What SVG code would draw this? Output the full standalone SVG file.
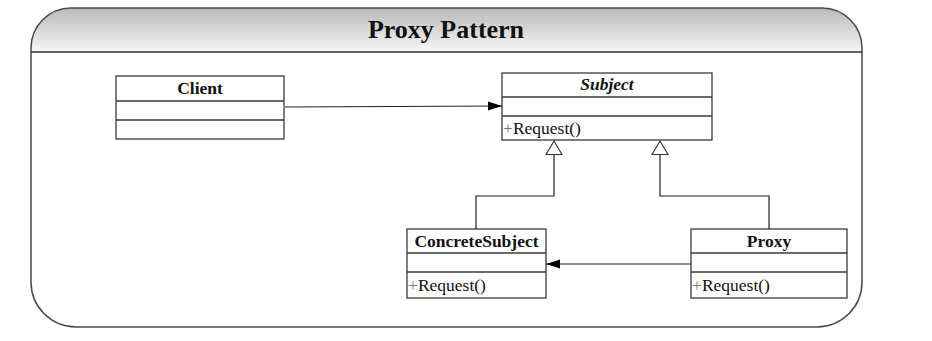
<svg xmlns="http://www.w3.org/2000/svg" width="932" height="341" viewBox="0 0 932 341">
  <defs>
    <linearGradient id="hdr" x1="0" y1="0" x2="0" y2="1">
      <stop offset="0" stop-color="#b9b9b9"/>
      <stop offset="1" stop-color="#f7f7f7"/>
    </linearGradient>
    <marker id="assoc" viewBox="0 0 14 10" refX="14" refY="5" markerWidth="14" markerHeight="10" markerUnits="userSpaceOnUse" orient="auto">
      <path d="M0,0.5 L14,5 L0,9.5 Z" fill="#000"/>
    </marker>
    <marker id="gen" viewBox="0 0 16 19" refX="15" refY="9.5" markerWidth="16" markerHeight="19" markerUnits="userSpaceOnUse" orient="auto">
      <path d="M15,9.5 L1.5,1.5 L1.5,17.5 Z" fill="#fff" stroke="#333" stroke-width="1.1"/>
    </marker>
  </defs>
  <style>
    .box { fill: #fff; stroke: #3a3a3a; stroke-width: 1.3; }
    .div { stroke: #3a3a3a; stroke-width: 1.3; }
    .name { font-family: "Liberation Serif", "Times New Roman", serif; font-size: 17.5px; font-weight: bold; text-anchor: middle; fill: #111; }
    .op { font-family: "Liberation Serif", "Times New Roman", serif; font-size: 17.5px; fill: #111; }
    .plus { fill: #777; }
    .conn { fill: none; stroke: #222; stroke-width: 1.2; }
  </style>
  <rect width="932" height="341" fill="#fff"/>

  <!-- frame with title bar -->
  <g id="frame">
    <path d="M31,52 L31,48 A40,40 0 0 1 71,8 L822,8 A40,40 0 0 1 862,48 L862,52 Z" fill="url(#hdr)"/>
    <path d="M31,48 A40,40 0 0 1 71,8 L822,8 A40,40 0 0 1 862,48 L862,282 A45,45 0 0 1 817,327 L76,327 A45,45 0 0 1 31,282 Z" fill="none" stroke="#4a4a4a" stroke-width="1.5"/>
    <line x1="31" y1="52" x2="862" y2="52" stroke="#333" stroke-width="1.5"/>
    <text x="446" y="38" font-family="'Liberation Serif', 'Times New Roman', serif" font-size="26" font-weight="bold" text-anchor="middle" fill="#111">Proxy Pattern</text>
  </g>

  <g id="client">
    <rect class="box" x="116" y="76" width="168" height="63"/>
    <line class="div" x1="116" y1="101" x2="284" y2="101"/>
    <line class="div" x1="116" y1="120" x2="284" y2="120"/>
    <text class="name" x="200" y="94">Client</text>
  </g>

  <g id="subject">
    <rect class="box" x="502" y="73" width="210" height="67"/>
    <line class="div" x1="502" y1="97" x2="712" y2="97"/>
    <line class="div" x1="502" y1="116" x2="712" y2="116"/>
    <text class="name" x="607" y="90" font-style="italic">Subject</text>
    <text class="op" x="503" y="134"><tspan class="plus">+</tspan>Request()</text>
  </g>

  <g id="concrete-subject">
    <rect class="box" x="407" y="229" width="139" height="69"/>
    <line class="div" x1="407" y1="253" x2="546" y2="253"/>
    <line class="div" x1="407" y1="272" x2="546" y2="272"/>
    <text class="name" x="476.5" y="247">ConcreteSubject</text>
    <text class="op" x="408" y="291"><tspan class="plus">+</tspan>Request()</text>
  </g>

  <g id="proxy">
    <rect class="box" x="691" y="229" width="156" height="69"/>
    <line class="div" x1="691" y1="253" x2="847" y2="253"/>
    <line class="div" x1="691" y1="272" x2="847" y2="272"/>
    <text class="name" x="769" y="247">Proxy</text>
    <text class="op" x="692" y="291"><tspan class="plus">+</tspan>Request()</text>
  </g>

  <g id="connectors">
    <!-- Client uses Subject -->
    <path class="conn" d="M285,107 L502,106" marker-end="url(#assoc)"/>
    <!-- ConcreteSubject realizes Subject -->
    <path class="conn" d="M476,229 L476,196 L554,196 L554,141" marker-end="url(#gen)"/>
    <!-- Proxy realizes Subject -->
    <path class="conn" d="M769,229 L769,196 L660,196 L660,141" marker-end="url(#gen)"/>
    <!-- Proxy delegates to ConcreteSubject -->
    <path class="conn" d="M691,264 L546,264" marker-end="url(#assoc)"/>
  </g>
</svg>
